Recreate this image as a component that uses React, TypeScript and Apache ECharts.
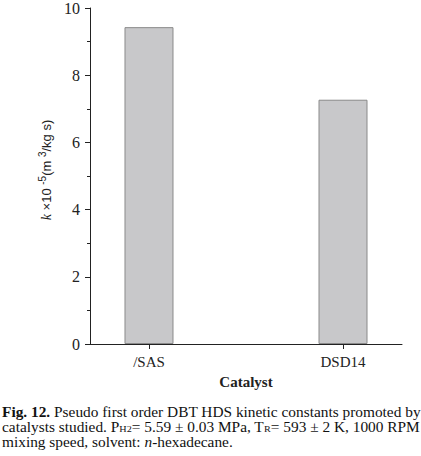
import React, { useEffect, useRef } from "react";
import * as echarts from "echarts";

const categories = ["/SAS", "DSD14"];
const kValues = [9.43, 7.27];
const yTicks = { min: 0, max: 10, interval: 2 };
const xLabel = "Catalyst";
const captionLines = [
  "{b|Fig. 12.} Pseudo first order DBT HDS kinetic constants promoted by",
  "catalysts studied. P{sub|H2}= 5.59 ± 0.03 MPa, T{sub|R}= 593 ± 2 K, 1000 RPM",
  "mixing speed, solvent: {i|n}-hexadecane.",
];

const SERIF = "Liberation Serif";
const SANS = "Liberation Sans";
const CAP = 13.6;

export default function App() {
  const ref = useRef<HTMLDivElement>(null);
  useEffect(() => {
    if (!ref.current) return;
    const chart = echarts.init(ref.current, null, { renderer: "svg" });
    const pos = categories.map((_, i) => i + 1);
    const capRich = {
      b: { fontFamily: SERIF, fontSize: CAP, fontWeight: "bold", fill: "#111" },
      sub: { fontFamily: SERIF, fontSize: 9, lineHeight: 9, fill: "#111", padding: [4, 0, 0, 0] },
      i: { fontFamily: SERIF, fontSize: CAP, fontStyle: "italic", fill: "#111" },
    };
    chart.setOption({
      animation: false,
      textStyle: { fontFamily: SERIF },
      grid: { left: 90, right: 19, top: 5, bottom: 112, containLabel: false },
      xAxis: {
        type: "value",
        min: 0.696,
        max: 2.304,
        name: xLabel,
        nameLocation: "middle",
        nameGap: 30,
        nameTextStyle: { fontFamily: SERIF, fontSize: 15, fontWeight: "bold", color: "#222" },
        axisLine: { show: true, onZero: false, lineStyle: { color: "#222", width: 1 } },
        axisTick: { show: true, length: 5, lineStyle: { color: "#222" }, customValues: pos },
        axisLabel: {
          customValues: pos,
          margin: 10,
          fontFamily: SERIF,
          fontSize: 15,
          color: "#222",
          formatter: (v: number) => categories[Math.round(v) - 1] ?? "",
        },
        splitLine: { show: false },
      },
      yAxis: {
        type: "value",
        min: yTicks.min,
        max: yTicks.max,
        interval: yTicks.interval,
        axisLine: { show: true, lineStyle: { color: "#222", width: 1 } },
        axisTick: { show: true, inside: false, length: 5, lineStyle: { color: "#222" } },
        minorTick: { show: true, splitNumber: 2, length: 3, lineStyle: { color: "#222" } },
        axisLabel: { fontFamily: SERIF, fontSize: 16, color: "#222", margin: 10 },
        splitLine: { show: false },
      },
      series: [
        {
          type: "bar",
          data: pos.map((p, i) => [p, kValues[i]]),
          barWidth: 49,
          itemStyle: { color: "#c8c8ca", borderColor: "#8a8a8a", borderWidth: 1 },
        },
      ],
      graphic: [
        {
          type: "text",
          x: 46,
          y: 170,
          rotation: Math.PI / 2,
          style: {
            text: "{i|k} ×10 {sup|-5}(m {sup|3}/kg s)",
            fontFamily: SANS,
            fontSize: 13,
            fill: "#222",
            align: "center",
            verticalAlign: "middle",
            rich: {
              i: { fontFamily: SERIF, fontSize: 14, fontStyle: "italic", fill: "#222" },
              sup: { fontFamily: SANS, fontSize: 10, fill: "#222", padding: [0, 0, 8, 0] },
            },
          },
        },
        ...captionLines.map((t, i) => ({
          type: "text",
          x: 2,
          y: 412 + i * 15,
          scaleX: 1.13,
          style: {
            text: t,
            fontFamily: SERIF,
            fontSize: CAP,
            fill: "#111",
            align: "left",
            verticalAlign: "middle",
            rich: capRich,
          },
        })),
      ],
    });
    return () => chart.dispose();
  }, []);
  return (
    <div
      ref={ref}
      style={{ position: "fixed", left: 0, top: 0, width: 421, height: 456, background: "#fff" }}
    />
  );
}
